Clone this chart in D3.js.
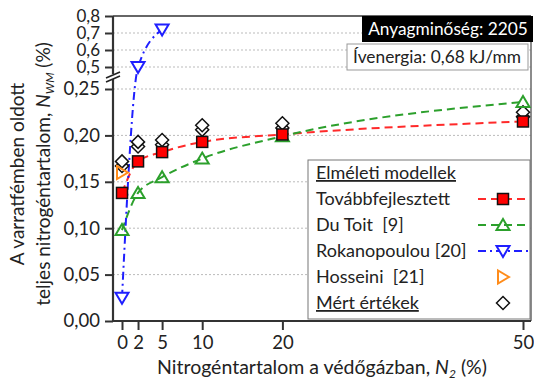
<!DOCTYPE html>
<html>
<head>
<meta charset="utf-8">
<script src="https://cdn.jsdelivr.net/npm/d3@7"></script>
<style>
  body { margin: 0; background: #fff; }
  text { font-family: Lato, "Open Sans", sans-serif; fill: #222; white-space: pre; }
</style>
</head>
<body>
<div id="chart"></div>
<script>
// N2 in the shielding gas (%)
var n2 = [0, 2, 5, 10, 20, 50];
var tovabbfejlesztett = [0.138, 0.172, 0.182, 0.193, 0.201, 0.215];
var duToit = [0.098, 0.138, 0.155, 0.175, 0.199, 0.236];
var rokanN2 = [0, 2, 5];
var rokanopoulou = [0.025, 0.5, 0.72];
var hosseiniN2 = [0];
var hosseini = [0.16];
// two measurements per gas composition
var mertA = [0.167, 0.188, 0.190, 0.206, 0.208, 0.220];
var mertB = [0.172, 0.193, 0.195, 0.211, 0.213, 0.225];

var xTicks = [0, 2, 5, 10, 20, 50];
var yTicksLow = [0, 0.05, 0.10, 0.15, 0.20, 0.25];
var yTicksHigh = [0.5, 0.6, 0.7, 0.8];

var legendNames = ["Továbbfejlesztett", "Du Toit  [9]", "Rokanopoulou [20]", "Hosseini  [21]"];

var W = 534, H = 382;
var svg = d3.select("#chart").append("svg")
    .attr("width", W)
    .attr("height", H);

var pLeft = 113, pRight = 531, pTop = 16, pBottom = 321;

var x = d3.scaleLinear().domain([0, 50]).range([122, 523]);
var yLow = d3.scaleLinear().domain([0, 0.25]).range([pBottom, 89]);
var yHigh = d3.scaleLinear().domain([0.5, 0.8]).range([67, pTop]);
var fmt = function (d, dec) { return d3.format("." + dec + "f")(d).replace(".", ","); };
function yPos(v) { return v > 0.3 ? yHigh(v) : yLow(v); }

// gridlines
var grid = svg.append("g");
yTicksLow.slice(1).forEach(function (t) {
    grid.append("line").attr("x1", pLeft).attr("x2", pRight).attr("y1", yLow(t)).attr("y2", yLow(t));
});
yTicksHigh.slice(0, 3).forEach(function (t) {
    grid.append("line").attr("x1", pLeft).attr("x2", pRight).attr("y1", yHigh(t)).attr("y2", yHigh(t));
});
grid.selectAll("line")
    .style("stroke", "#bbb")
    .style("stroke-width", 1)
    .style("stroke-dasharray", "2,2");

// frame top + right
svg.append("line").attr("x1", pLeft).attr("x2", pRight).attr("y1", pTop).attr("y2", pTop)
    .style("stroke", "#333").style("stroke-width", 1.5);
svg.append("line").attr("x1", pRight).attr("x2", pRight).attr("y1", pTop).attr("y2", pBottom)
    .style("stroke", "#666").style("stroke-width", 1.5);

// y axes (two segments)
var yAxisLow = svg.append("g")
    .attr("transform", "translate(" + pLeft + ",0)")
    .call(d3.axisLeft(yLow).tickValues(yTicksLow).tickSize(8).tickSizeOuter(0).tickPadding(5)
        .tickFormat(function (d) { return fmt(d, 2); }));
yAxisLow.select(".domain").attr("d", "M0," + pBottom + "V79");

var yAxisHigh = svg.append("g")
    .attr("class", "yhigh")
    .attr("transform", "translate(" + pLeft + ",0)")
    .call(d3.axisLeft(yHigh).tickValues(yTicksHigh).tickSize(8).tickSizeOuter(0).tickPadding(5)
        .tickFormat(function (d) { return fmt(d, 1); }));
yAxisHigh.select(".domain").attr("d", "M0," + pTop + "V75");

// x axis
var xAxis = svg.append("g")
    .attr("transform", "translate(0," + pBottom + ")")
    .call(d3.axisBottom(x).tickValues(xTicks).tickSize(9).tickSizeOuter(0).tickPadding(6));
xAxis.select(".domain").attr("d", "M" + pLeft + ",0H" + pRight);

svg.selectAll(".domain").style("stroke", "#333").style("stroke-width", 2.2);
svg.selectAll(".tick line").style("stroke", "#333").style("stroke-width", 2);
svg.selectAll(".tick text")
    .style("font-family", "Lato, sans-serif")
    .style("font-size", "18.5px")
    .style("fill", "#222");
svg.selectAll(".yhigh .tick text").style("font-size", "17px");

// axis break marks
var brk = svg.append("g").attr("transform", "translate(" + pLeft + ",77)");
brk.append("rect").attr("x", -6).attr("y", -3).attr("width", 12).attr("height", 5).style("fill", "#fff");
[-2, 2].forEach(function (o) {
    brk.append("line")
        .attr("x1", -7).attr("y1", o + 3)
        .attr("x2", 7).attr("y2", o - 3)
        .style("stroke", "#222").style("stroke-width", 1.6);
});

// model curves
var series = [
    { xs: n2, ys: tovabbfejlesztett, color: "#ff2a2a", dash: "8,5" },
    { xs: n2, ys: duToit, color: "#2ca02c", dash: "8,5" },
    { xs: rokanN2, ys: rokanopoulou, color: "#1f1fff", dash: "8,4,2,4" }
];
var line = d3.line()
    .x(function (d) { return x(d[0]); })
    .y(function (d) { return yPos(d[1]); })
    .curve(d3.curveMonotoneX);

series.forEach(function (s) {
    svg.append("path")
        .datum(s.xs.map(function (v, i) { return [v, s.ys[i]]; }))
        .attr("d", line)
        .style("fill", "none")
        .style("stroke", s.color)
        .style("stroke-width", 2)
        .style("stroke-dasharray", s.dash);
});

// symbols
function drawSymbol(g, kind, cx, cy) {
    if (kind === "square") {
        g.append("rect").attr("x", cx - 5.5).attr("y", cy - 5.5).attr("width", 11).attr("height", 11)
            .style("fill", "#f00").style("stroke", "#111").style("stroke-width", 1.5);
    } else if (kind === "up") {
        g.append("path").attr("d", "M" + cx + "," + (cy - 6) + "L" + (cx + 6.5) + "," + (cy + 5) + "L" + (cx - 6.5) + "," + (cy + 5) + "Z")
            .style("fill", "none").style("stroke", "#2ca02c").style("stroke-width", 2);
    } else if (kind === "down") {
        g.append("path").attr("d", "M" + cx + "," + (cy + 6) + "L" + (cx + 6.5) + "," + (cy - 5) + "L" + (cx - 6.5) + "," + (cy - 5) + "Z")
            .style("fill", "#fff").style("stroke", "#1f1fff").style("stroke-width", 2);
    } else if (kind === "right") {
        g.append("path").attr("d", "M" + (cx + 6) + "," + cy + "L" + (cx - 5) + "," + (cy - 6.5) + "L" + (cx - 5) + "," + (cy + 6.5) + "Z")
            .style("fill", "none").style("stroke", "#ff8c1a").style("stroke-width", 2);
    } else if (kind === "diamond") {
        g.append("path").attr("d", "M" + cx + "," + (cy - 6.5) + "L" + (cx + 6.5) + "," + cy + "L" + cx + "," + (cy + 6.5) + "L" + (cx - 6.5) + "," + cy + "Z")
            .style("fill", "#fff").style("stroke", "#111").style("stroke-width", 1.5);
    }
}

var marks = svg.append("g");
n2.forEach(function (v, i) {
    drawSymbol(marks, "diamond", x(v), yPos(mertA[i]));
    drawSymbol(marks, "diamond", x(v), yPos(mertB[i]));
});
hosseiniN2.forEach(function (v, i) { drawSymbol(marks, "right", x(v), yPos(hosseini[i])); });
n2.forEach(function (v, i) { drawSymbol(marks, "up", x(v), yPos(duToit[i])); });
n2.forEach(function (v, i) { drawSymbol(marks, "square", x(v), yPos(tovabbfejlesztett[i])); });
rokanN2.forEach(function (v, i) { drawSymbol(marks, "down", x(v), yPos(rokanopoulou[i])); });

// legend
var lg = svg.append("g");
lg.append("rect").attr("x", 308).attr("y", 160).attr("width", 222).attr("height", 159)
    .style("fill", "#fff").style("stroke", "#777").style("stroke-width", 1);
lg.append("text").attr("x", 316).attr("y", 179).text("Elméleti modellek")
    .style("font-size", "18px").style("text-decoration", "underline");
var kinds = ["square", "up", "down", "right"];
legendNames.forEach(function (name, i) {
    var yy = 199 + i * 26;
    lg.append("text").attr("x", 316).attr("y", yy + 6).text(name).style("font-size", "18px");
    if (i < 3) {
        lg.append("line").attr("x1", 478).attr("x2", 528).attr("y1", yy).attr("y2", yy)
            .style("stroke", series[i].color).style("stroke-width", 2).style("stroke-dasharray", series[i].dash);
    }
    drawSymbol(lg, kinds[i], 503, yy);
});
lg.append("text").attr("x", 316).attr("y", 309).text("Mért értékek")
    .style("font-size", "18px").style("text-decoration", "underline");
drawSymbol(lg, "diamond", 503, 303);

// info boxes
svg.append("rect").attr("x", 362).attr("y", 16).attr("width", 171).attr("height", 26).style("fill", "#000");
svg.append("text").attr("x", 448).attr("y", 35).attr("text-anchor", "middle")
    .text("Anyagminőség: 2205").style("font-size", "17.3px").style("fill", "#fff");
svg.append("rect").attr("x", 347).attr("y", 44).attr("width", 181).attr("height", 26)
    .style("fill", "#fff").style("stroke", "#999");
svg.append("text").attr("x", 437).attr("y", 63).attr("text-anchor", "middle")
    .text("Ívenergia: 0,68 kJ/mm").style("font-size", "17.3px");

// axis titles
var xt = svg.append("text").attr("x", 322).attr("y", 374).attr("text-anchor", "middle").style("font-size", "19.5px");
xt.append("tspan").text("Nitrogéntartalom a védőgázban, ");
xt.append("tspan").text("N").style("font-style", "italic");
xt.append("tspan").text("2").style("font-style", "italic").style("font-size", "12px").attr("dy", 4);
xt.append("tspan").text(" (%)").attr("dy", -4);

var yt = svg.append("g").attr("transform", "translate(24,174) rotate(-90)");
yt.append("text").attr("x", 0).attr("y", 0).attr("text-anchor", "middle").style("font-size", "19px")
    .text("A varratfémben oldott");
var yt2 = yt.append("text").attr("x", 0).attr("y", 26).attr("text-anchor", "middle").style("font-size", "19px");
yt2.append("tspan").text("teljes nitrogéntartalom, ");
yt2.append("tspan").text("N").style("font-style", "italic");
yt2.append("tspan").text("WM").style("font-style", "italic").style("font-size", "12px").attr("dy", 4);
yt2.append("tspan").text(" (%)").attr("dy", -4);
</script>
</body>
</html>
